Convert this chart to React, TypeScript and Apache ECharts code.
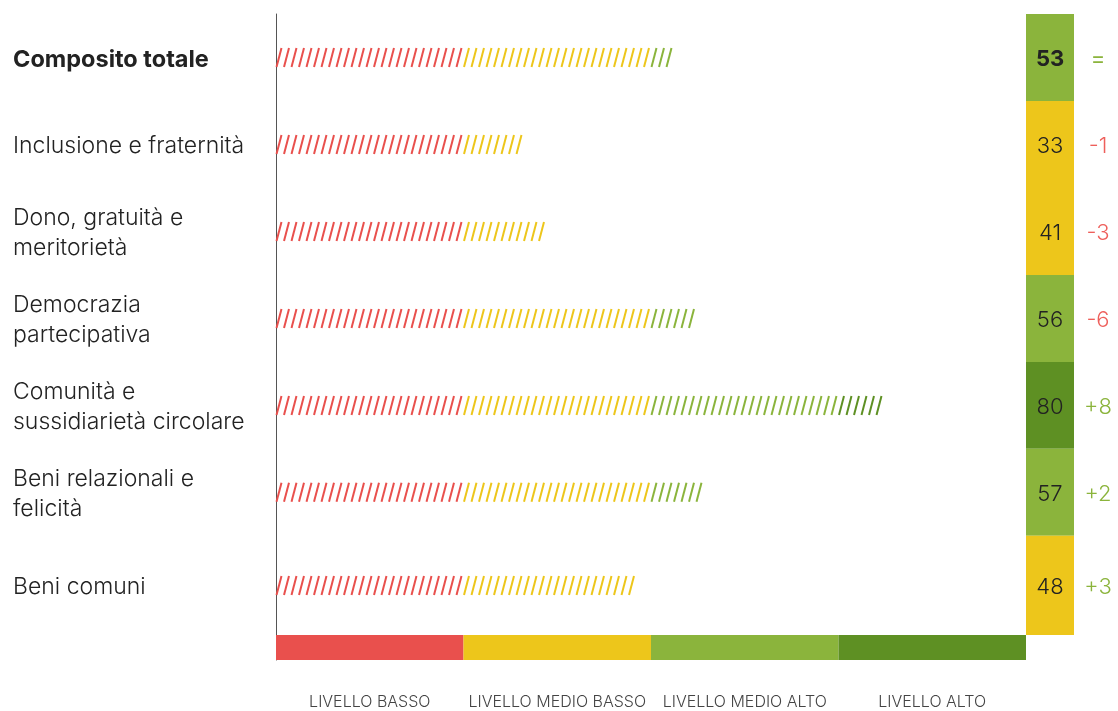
import React, { useEffect, useRef } from "react";
import * as echarts from "echarts";

const CATEGORIES = [
  "Composito totale",
  "Inclusione e fraternità",
  "Dono, gratuità e\nmeritorietà",
  "Democrazia\npartecipativa",
  "Comunità e\nsussidiarietà circolare",
  "Beni relazionali e\nfelicità",
  "Beni comuni",
];
const VALUES = [53, 33, 41, 56, 80, 57, 48];
// number of hatch marks drawn in each row (one per unit)
const HATCH_MARKS = [53, 33, 36, 56, 81, 57, 48];
const CHANGES = ["=", "-1", "-3", "-6", "+8", "+2", "+3"];
const LEVEL_NAMES = ["LIVELLO BASSO", "LIVELLO MEDIO BASSO", "LIVELLO MEDIO ALTO", "LIVELLO ALTO"];
const LEVEL_WIDTHS = [25, 25, 25, 25];
const LEVEL_COLORS = ["#E9504D", "#EDC61B", "#8BB43C", "#5E9023"];
const CHANGE_UP = "#8BB43C";
const CHANGE_DOWN = "#EE5F5B";

const FONT = "Inter, 'Liberation Sans', sans-serif";
const LAST_ROW_SPAN = 1.14;
const Y_MAX = CATEGORIES.length - 1 + LAST_ROW_SPAN;

function levelOf(v: number) {
  let acc = 0;
  for (let i = 0; i < LEVEL_WIDTHS.length; i++) {
    acc += LEVEL_WIDTHS[i];
    if (v < acc) return i;
  }
  return LEVEL_WIDTHS.length - 1;
}

export default function App() {
  const ref = useRef<HTMLDivElement>(null);
  useEffect(() => {
    if (!ref.current) return;
    const chart = echarts.init(ref.current, null, { renderer: "svg" });
    const n = CATEGORIES.length;
    const renderItem = (params: any, api: any) => {
      const idx = api.value(1);
      const val = api.value(0);
      const marks = api.value(2);
      const top = api.coord([0, idx])[1];
      const bottom = api.coord([0, idx === n - 1 ? Y_MAX : idx + 1])[1];
      const cy = (top + bottom) / 2;
      const x0 = api.coord([0, idx])[0];
      const x100 = api.coord([100, idx])[0];
      const bold = idx === 0;
      const children: any[] = [];
      for (let k = 0; k < marks; k++) {
        const xs = api.coord([k, idx])[0];
        children.push({
          type: "line",
          shape: { x1: xs + 0.5, y1: cy + 9.5, x2: xs + 5.5, y2: cy - 9.5 },
          style: { stroke: LEVEL_COLORS[levelOf(k)], lineWidth: 2 },
        });
      }
      children.push({
        type: "rect",
        shape: { x: x100, y: top, width: 48, height: bottom - top },
        style: { fill: LEVEL_COLORS[levelOf(val)] },
      });
      children.push({
        type: "text",
        x: x100 + 24,
        y: cy + 1,
        style: {
          text: String(val),
          fill: "#222",
          fontSize: 22,
          fontWeight: bold ? "bold" : 300,
          fontFamily: FONT,
          align: "center",
          verticalAlign: "middle",
        },
      });
      const ch = CHANGES[idx];
      children.push({
        type: "text",
        x: x100 + 72,
        y: cy + 1,
        style: {
          text: ch,
          fill: ch.startsWith("-") ? CHANGE_DOWN : CHANGE_UP,
          fontSize: 22,
          fontWeight: ch === "=" ? "normal" : 300,
          fontFamily: FONT,
          align: "center",
          verticalAlign: "middle",
        },
      });
      children.push({
        type: "text",
        x: x0 - 263,
        y: cy + 1,
        style: {
          text: CATEGORIES[idx],
          fill: "#222",
          fontSize: bold ? 23.5 : 23,
          fontWeight: bold ? "bold" : 300,
          fontFamily: FONT,
          lineHeight: 30,
          align: "left",
          verticalAlign: "middle",
        },
      });
      return { type: "group", children };
    };

    chart.setOption({
      animation: false,
      grid: [
        { left: 276, right: 92, top: 14, height: 621 },
        { left: 276, right: 92, top: 635, height: 25 },
      ],
      xAxis: [
        { gridIndex: 0, type: "value", min: 0, max: 100, show: false },
        { gridIndex: 1, type: "value", min: 0, max: 100, show: false },
      ],
      yAxis: [
        {
          gridIndex: 0,
          type: "value",
          inverse: true,
          min: 0,
          max: Y_MAX,
          axisLine: { show: true, lineStyle: { color: "#555", width: 1 } },
          axisTick: { show: false },
          axisLabel: { show: false },
          splitLine: { show: false },
        },
        {
          gridIndex: 1,
          type: "category",
          data: ["levels"],
          axisLine: { show: true, lineStyle: { color: "#555", width: 1 } },
          axisTick: { show: false },
          axisLabel: { show: false },
        },
      ],
      series: [
        {
          type: "custom",
          xAxisIndex: 0,
          yAxisIndex: 0,
          clip: false,
          renderItem,
          encode: { x: 0, y: 1 },
          data: VALUES.map((v, i) => [v, i, HATCH_MARKS[i]]),
        },
        ...LEVEL_NAMES.map((name, i) => ({
          type: "bar",
          name,
          xAxisIndex: 1,
          yAxisIndex: 1,
          stack: "levels",
          barWidth: "100%",
          data: [LEVEL_WIDTHS[i]],
          itemStyle: { color: LEVEL_COLORS[i] },
          label: {
            show: true,
            position: "bottom",
            distance: 33,
            formatter: name,
            color: "#444",
            fontSize: 16,
            fontWeight: 300,
            fontFamily: FONT,
          },
        })),
      ],
    });
    return () => chart.dispose();
  }, []);
  return (
    <div
      ref={ref}
      style={{ position: "fixed", left: 0, top: 0, width: 1118, height: 711 }}
    />
  );
}
